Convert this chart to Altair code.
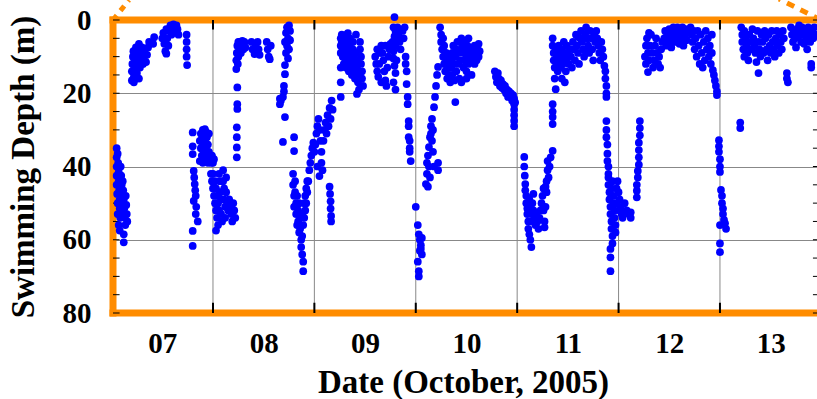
import altair as alt
import pandas as pd

# ---- data: (day of October 2005, swimming depth in m) ----
oct07_dawn = [(7.05,35),(7.05,37.5),(7.05,40),(7.05,42.5),(7.05,45),(7.055,47.5),(7.06,50),(7.06,36.5),(7.065,39),(7.07,41.5),(7.07,44),(7.075,46.5),(7.08,49),(7.08,51.5),(7.085,54),(7.09,40),(7.095,42.5),(7.1,45),(7.1,47.5),(7.105,50),(7.11,52.5),(7.11,44),(7.115,46.5),(7.12,49),(7.125,51.5),(7.13,54),(7.135,56),(7.12,58.5),(7.12,60.7),(7.14,48),(7.145,50.5),(7.15,53),(7.155,55),(7.07,56),(7.08,57.5),(7.06,53)]
oct07_day = [(7.2,16.5),(7.2,14),(7.205,12),(7.21,10),(7.215,8.5),(7.22,15.5),(7.225,13),(7.23,11),(7.235,9),(7.24,7.5),(7.25,14.5),(7.255,12),(7.26,10),(7.265,8),(7.27,6.5),(7.28,13),(7.285,11),(7.29,9),(7.3,7.5),(7.31,12),(7.32,10),(7.33,8),(7.34,11.5),(7.35,9.5),(7.36,7.5),(7.37,6),(7.22,17),(7.27,16),(7.42,4.7),(7.41,6.5),(7.5,5),(7.51,3.5),(7.52,6.5),(7.53,8.5),(7.54,2.5),(7.55,5),(7.56,7),(7.57,3),(7.58,1.5),(7.59,4),(7.6,2.5),(7.61,1.2),(7.62,3),(7.63,2),(7.64,1.5),(7.65,2.5),(7.54,9.2),(7.66,4),(7.74,4),(7.74,6),(7.74,8),(7.74,10),(7.745,12.3)]
oct07_night = [(7.8,30.7),(7.8,34.5),(7.8,36.6),(7.81,41.2),(7.815,43),(7.82,44.8),(7.825,46.5),(7.83,48),(7.81,49.4),(7.85,55),(7.8,57.6),(7.8,61.7),(7.835,51),(7.83,53),(7.87,33),(7.88,31),(7.89,32.5),(7.9,30),(7.91,31.5),(7.92,29.8),(7.93,30.5),(7.94,32),(7.95,34),(7.96,36),(7.97,38),(7.88,35),(7.89,37),(7.9,34),(7.91,36),(7.92,38),(7.93,35),(7.94,37),(7.95,39),(7.98,39),(7.99,37),(8.0,39),(8.01,38),(7.87,38.5),(7.96,31),(7.92,33),(7.9,39)]
oct08_dawn = [(7.98,42),(7.99,44),(8.0,46),(8.0,42),(8.01,48),(8.02,44),(8.02,50),(8.03,46),(8.03,52),(8.04,48),(8.04,54),(8.05,50),(8.05,56),(8.06,52),(8.06,42),(8.07,44),(8.07,47),(8.08,49),(8.08,53),(8.09,55),(8.1,41),(8.1,44),(8.11,46),(8.11,49),(8.12,51),(8.12,54),(8.13,43),(8.13,47),(8.14,50),(8.15,52),(8.16,49),(8.17,51),(8.18,53),(8.19,55),(8.2,50),(8.21,52),(8.22,54),(8.03,57.5)]
oct08_day = [(8.24,18.4),(8.24,23),(8.24,24.3),(8.235,29.3),(8.235,32),(8.235,34.8),(8.235,37.5),(8.23,13.4),(8.23,11),(8.235,9),(8.24,7),(8.245,12),(8.25,10),(8.26,8),(8.265,6),(8.275,9),(8.285,7),(8.29,5.7),(8.3,8),(8.31,6),(8.32,7.5),(8.25,6),(8.38,6),(8.39,8),(8.41,9.3),(8.42,7),(8.44,6),(8.45,8),(8.46,9.5),(8.53,6),(8.54,8),(8.55,10),(8.56,10.7),(8.57,7),(8.73,2),(8.72,3.5),(8.74,5),(8.71,6),(8.73,7),(8.75,8),(8.72,9),(8.74,10.5),(8.71,12.3),(8.71,14.8),(8.7,18),(8.7,19.5),(8.69,21),(8.67,22),(8.66,23),(8.66,21.5),(8.71,26.5),(8.69,33.3),(8.76,3),(8.76,5.5),(8.75,1.5),(8.8,32),(8.8,35.8)]
oct08_night = [(8.79,42),(8.79,45),(8.8,48),(8.8,51),(8.81,44),(8.81,47),(8.82,50),(8.82,53),(8.83,56),(8.83,48),(8.84,52),(8.84,55),(8.85,58),(8.85,50),(8.86,54),(8.86,57),(8.87,60),(8.87,62),(8.88,59),(8.88,64),(8.89,66),(8.89,68.6),(8.88,53),(8.89,56),(8.9,50),(8.9,54),(8.91,48),(8.91,52),(8.92,46),(8.92,50),(8.93,44),(8.93,47),(8.94,44),(8.95,41),(8.96,39),(8.97,37),(8.98,35),(8.99,33.5),(9.0,36),(9.01,34),(9.02,31),(9.03,29),(9.04,27),(9.05,30),(9.06,33),(9.07,36),(9.07,39),(9.08,41),(9.09,33),(9.1,30),(9.11,28),(9.12,31),(9.13,26),(9.14,29),(9.15,24),(9.16,27),(9.17,22),(9.18,24.5),(9.03,40),(9.05,42.6)]
oct09_dawn = [(9.15,45.5),(9.155,47.5),(9.16,49.5),(9.16,51.5),(9.165,53.5),(9.165,55),(9.26,5),(9.26,7),(9.26,9),(9.26,13),(9.26,17),(9.26,21)]
oct09_day = [(9.27,4),(9.27,6),(9.28,8),(9.28,10),(9.29,12),(9.29,5),(9.3,7),(9.3,9),(9.31,11),(9.31,13),(9.32,4),(9.32,6),(9.33,3.6),(9.33,8),(9.33,10),(9.34,12),(9.34,14),(9.35,5),(9.35,7),(9.36,9),(9.36,11),(9.37,13),(9.37,15),(9.38,6),(9.38,8),(9.39,10),(9.39,12),(9.4,14),(9.4,16),(9.41,4),(9.41,9),(9.42,11),(9.42,13),(9.43,15),(9.43,17),(9.42,20.2),(9.45,6),(9.45,8),(9.46,10),(9.46,12),(9.47,14),(9.47,16),(9.48,18),(9.44,19),(9.6,10),(9.61,12),(9.62,14),(9.63,15.5),(9.64,12),(9.65,9),(9.66,7),(9.67,9),(9.68,11),(9.69,14),(9.7,16.5),(9.71,18),(9.72,13),(9.73,10),(9.74,8),(9.75,6.5),(9.7,7),(9.66,17),(9.62,8),(9.79,-0.8),(9.78,2),(9.8,3),(9.79,4.5),(9.81,5.5),(9.8,7),(9.82,2),(9.83,4),(9.84,6),(9.85,8),(9.77,6),(9.78,8.5),(9.87,3),(9.88,5),(9.89,2),(9.78,10.5),(9.79,12.5),(9.8,14.5),(9.78,17),(9.8,19),(9.81,11)]
oct09_night = [(9.9,10),(9.9,12),(9.91,14),(9.91,17.5),(9.92,21),(9.92,23),(9.93,27.6),(9.93,29),(9.93,32),(9.94,33),(9.94,35),(9.94,36),(9.95,38.5),(10.0,51),(10.02,56),(10.03,58.5),(10.04,60),(10.05,61.5),(10.04,63),(10.06,64),(10.05,62.5),(10.03,68.6),(10.03,70),(10.06,59.5),(10.02,66),(10.1,44.8),(10.11,42),(10.11,39),(10.12,37),(10.13,34.7),(10.14,32),(10.15,29),(10.15,31),(10.16,27),(10.17,30),(10.18,23.8),(10.19,21),(10.2,18),(10.21,15),(10.22,12.8),(10.18,40),(10.13,40),(10.14,43),(10.12,45.5),(10.17,36),(10.16,33),(10.22,39),(10.22,41)]
oct10_day = [(10.24,2),(10.25,4),(10.25,6),(10.26,8),(10.27,10),(10.27,5),(10.28,7),(10.28,12),(10.29,14),(10.3,9),(10.3,11),(10.31,13),(10.31,16),(10.32,10),(10.33,12),(10.33,15),(10.34,17),(10.35,11),(10.35,13),(10.36,15),(10.36,9),(10.37,7),(10.38,12),(10.38,16.5),(10.39,10),(10.4,8),(10.4,14),(10.41,6),(10.42,12),(10.42,9),(10.43,16),(10.44,11),(10.45,8),(10.45,5),(10.46,7),(10.47,9),(10.47,13),(10.48,6),(10.48,11),(10.49,8),(10.5,10),(10.5,14),(10.51,7),(10.52,5),(10.52,12),(10.53,9),(10.54,8),(10.55,11),(10.56,8),(10.57,10),(10.58,7),(10.58,12),(10.59,9),(10.6,11),(10.61,8),(10.62,10),(10.62,6.5),(10.63,8.5),(10.39,22.4),(10.45,17),(10.5,16),(10.55,15),(10.78,14),(10.79,15.5),(10.8,17),(10.81,14.5),(10.82,16),(10.83,18),(10.84,16.5),(10.85,18.5),(10.86,17.5),(10.87,19),(10.88,18),(10.89,20),(10.9,19),(10.91,21),(10.92,19.5),(10.93,21),(10.94,20),(10.95,22),(10.96,20.5),(10.97,21.5),(10.98,22.5),(10.97,23),(10.97,24.5),(10.97,26),(10.97,27.5),(10.97,29)]
oct11_dawn = [(11.07,37.4),(11.07,40),(11.075,42.5),(11.08,44.8),(11.08,46.5),(11.09,48),(11.09,50),(11.1,51.5),(11.1,53),(11.11,55),(11.11,57),(11.12,58.5),(11.13,60),(11.14,62),(11.12,49),(11.13,51),(11.14,53),(11.15,55),(11.15,50),(11.16,52),(11.17,54),(11.18,56),(11.19,53),(11.2,55),(11.21,57),(11.22,54),(11.23,52),(11.24,50),(11.25,48),(11.26,52),(11.27,55),(11.27,56.6),(11.28,51),(11.29,47),(11.29,44),(11.3,41),(11.3,38.5),(11.31,43),(11.32,40),(11.33,37.5),(11.35,35.7),(11.26,46),(11.28,45.5),(11.16,47.5)]
oct11_day = [(11.35,23),(11.35,25),(11.35,26.5),(11.35,28.4),(11.35,5),(11.35,7),(11.36,9),(11.36,11),(11.37,13),(11.37,16),(11.38,18.9),(11.38,8),(11.39,10),(11.4,12),(11.4,14),(11.41,7),(11.42,9),(11.42,11),(11.43,13),(11.44,8),(11.45,10),(11.45,12),(11.46,6),(11.47,9),(11.48,11),(11.48,14),(11.49,7),(11.5,10),(11.51,12),(11.52,8),(11.53,10),(11.54,13),(11.55,6),(11.56,8),(11.57,11),(11.58,4),(11.59,7),(11.6,9),(11.61,12),(11.62,5),(11.63,3),(11.64,6),(11.65,8),(11.66,10),(11.67,4),(11.68,2),(11.69,5),(11.7,7),(11.71,9),(11.72,3),(11.73,5),(11.74,8),(11.75,11),(11.76,4),(11.77,6),(11.78,3),(11.79,5),(11.8,7),(11.81,9),(11.82,11),(11.83,6),(11.84,8),(11.85,10),(11.86,12.5),(11.87,14),(11.87,16),(11.88,18),(11.88,20),(11.88,21),(11.68,8.5),(11.6,4.5),(11.44,16),(11.47,17)]
oct12_dawn = [(11.88,27.6),(11.88,30),(11.88,32),(11.89,34),(11.89,36.5),(11.89,38.5),(11.9,40),(11.9,42),(11.9,43),(11.9,45),(11.91,47),(11.91,49),(11.92,51),(11.92,53),(11.93,55),(11.93,57),(11.94,59),(11.94,61),(11.92,62.5),(11.95,48),(11.95,50),(11.96,52),(11.96,54),(11.97,56),(11.97,58),(11.98,50),(11.98,46),(11.99,44),(12.0,47),(12.01,49),(12.01,52),(12.02,51),(12.03,53),(12.04,54),(11.92,64.8),(11.92,68.6),(11.93,46),(11.94,44),(12.06,50),(12.08,52),(12.1,53),(12.12,54),(12.12,52.5),(12.21,27.6),(12.21,29.5),(12.21,31.5),(12.2,33.5),(12.2,35.5),(12.2,37.5),(12.2,39.5),(12.19,41.2),(12.19,43),(12.18,45),(12.18,46.6),(12.18,48.4)]
oct12_day = [(12.26,10),(12.27,7),(12.27,12),(12.28,5),(12.29,9),(12.29,14.2),(12.3,11),(12.31,7),(12.32,4),(12.33,9),(12.34,13),(12.35,11),(12.36,7),(12.37,5),(12.38,9),(12.39,12),(12.4,10),(12.41,13),(12.42,8),(12.43,6),(12.3,3.5),(12.45,5),(12.46,3),(12.47,7),(12.48,4),(12.49,6),(12.5,2.5),(12.51,5),(12.52,7.5),(12.53,4),(12.54,2),(12.55,6),(12.56,3.5),(12.57,5.5),(12.58,2),(12.59,4),(12.6,6.5),(12.61,3),(12.62,5),(12.63,2),(12.64,7),(12.65,4),(12.66,2.5),(12.67,5.5),(12.68,3.5),(12.71,2),(12.72,4),(12.73,6),(12.74,3),(12.75,8),(12.76,5),(12.77,10),(12.78,3),(12.79,7),(12.8,12),(12.81,4),(12.82,9),(12.83,13),(12.84,6),(12.85,11),(12.86,3),(12.87,8),(12.88,5),(12.89,10),(12.9,7),(12.91,12),(12.92,4),(12.92,9),(12.93,13.7),(12.94,15),(12.95,16.5),(12.96,18),(12.97,19.5),(12.97,20.5)]
oct13_dawn = [(12.99,32.8),(12.99,34.5),(12.99,36),(13.0,38),(13.0,40),(13.0,41.5),(13.01,46.4),(13.02,48),(13.02,50),(13.03,51.5),(13.03,53),(13.04,54.6),(13.05,55.5),(13.06,57),(13.0,56),(13.0,61),(13.0,63.4),(13.2,28),(13.2,29.5)]
oct13_day = [(13.21,2),(13.22,4),(13.22,6),(13.23,8),(13.24,10),(13.24,3),(13.25,5),(13.26,7),(13.27,9),(13.28,11),(13.29,4),(13.3,6),(13.31,8),(13.32,2.5),(13.33,5),(13.34,7),(13.35,9),(13.36,11.5),(13.37,3),(13.38,14.5),(13.38,6),(13.39,8),(13.4,10),(13.41,4),(13.42,6),(13.43,9),(13.44,3),(13.45,5),(13.46,8),(13.47,11),(13.48,4),(13.49,7),(13.5,9),(13.51,3),(13.52,6),(13.53,8),(13.54,10),(13.55,5),(13.56,3),(13.57,7),(13.58,9),(13.59,4),(13.6,6),(13.61,8),(13.62,3),(13.63,5),(13.66,14.5),(13.66,16),(13.67,17),(13.7,2),(13.71,4),(13.72,6),(13.73,3),(13.74,5),(13.75,7.5),(13.76,2.5),(13.77,4.5),(13.78,1.5),(13.79,3.5),(13.8,6),(13.81,2),(13.82,4),(13.83,6.5),(13.84,3),(13.85,5),(13.86,8),(13.87,2),(13.88,4),(13.89,6),(13.9,12),(13.9,13),(13.91,3),(13.92,5),(13.93,2),(13.94,4)]

segments = [oct07_dawn, oct07_day, oct07_night, oct08_dawn, oct08_day, oct08_night,
            oct09_dawn, oct09_day, oct09_night, oct10_day, oct11_dawn, oct11_day,
            oct12_dawn, oct12_day, oct13_dawn, oct13_day]

day_bounds = [8, 9, 10, 11, 12, 13]            # midnight grid lines
label_days = [7.5, 8.5, 9.5, 10.5, 11.5, 12.5, 13.5]  # day labels at noon
depth_ticks = [0, 20, 40, 60, 80]
minor_depths = [0, 5, 10, 15, 20, 25, 30, 35, 40, 45, 50, 55, 60, 65, 70, 75, 80]

df = pd.DataFrame([{"day": t, "depth": d} for seg in segments for (t, d) in seg])

X_MIN, X_MAX = 7.014, 13.957
W, H = 704, 293
ORANGE = "#FF8C00"
GRID = "#888888"
FONT = "Liberation Serif"

xs = alt.Scale(domain=[X_MIN, X_MAX], nice=False, zero=False)
ys = alt.Scale(domain=[0, 80], reverse=True, nice=False, zero=False)

x_axis = alt.Axis(
    values=label_days,
    labelExpr="(datum.value < 10 ? '0' : '') + floor(datum.value)",
    grid=False, ticks=False, domain=False,
    labelFont=FONT, labelFontWeight="bold", labelFontSize=29, labelColor="black",
    labelBaseline="alphabetic", labelPadding=39, labelFlush=False, labelOverlap=False,
    title="Date (October, 2005)", titleFont=FONT, titleFontWeight="bold",
    titleFontSize=33, titleColor="black", titleBaseline="alphabetic",
    titleX=W / 2 - 2, titleY=79,
)
y_axis = alt.Axis(
    values=depth_ticks, grid=True, gridColor=GRID, gridWidth=1,
    ticks=False, domain=False,
    labelFont=FONT, labelFontWeight="bold", labelFontSize=29, labelColor="black",
    labelBaseline="middle", labelPadding=22, labelFlush=False, labelOverlap=False,
    title="Swimming Depth (m)", titleFont=FONT, titleFontWeight="bold",
    titleFontSize=33, titleColor="black", titleAngle=270, titleAlign="center",
    titleBaseline="alphabetic", titleX=-80, titleY=H / 2,
)

one = pd.DataFrame({"k": [0]})
bdf = pd.DataFrame({"day": day_bounds})
mdf = pd.DataFrame({"depth": minor_depths})

vgrid = alt.Chart(bdf).mark_rule(color=GRID, strokeWidth=1).encode(
    x=alt.X("day:Q", scale=xs, axis=x_axis))

callout_left = alt.Chart(one).mark_rule(
    color=ORANGE, strokeWidth=5, strokeDash=[6, 6]).encode(
    x=alt.value(0), x2=alt.value(16), y=alt.value(0), y2=alt.value(-20))
callout_right = alt.Chart(one).mark_rule(
    color=ORANGE, strokeWidth=5, strokeDash=[8, 7]).encode(
    x=alt.value(708), x2=alt.value(666), y=alt.value(0), y2=alt.value(-21))

frame_top = alt.Chart(one).mark_rule(color=ORANGE, strokeWidth=7, strokeCap="square").encode(
    x=alt.value(0), x2=alt.value(W + 10), y=alt.value(0))
frame_left = alt.Chart(one).mark_rule(color=ORANGE, strokeWidth=7, strokeCap="square").encode(
    x=alt.value(0), y=alt.value(0), y2=alt.value(H))
frame_bottom = alt.Chart(one).mark_rule(color=ORANGE, strokeWidth=7, strokeCap="square").encode(
    x=alt.value(0), x2=alt.value(W + 10), y=alt.value(H))

ticks_bottom = alt.Chart(bdf).mark_rule(color="black", strokeWidth=2).encode(
    x=alt.X("day:Q", scale=xs, axis=x_axis),
    y=alt.Y(datum=80, scale=ys, axis=y_axis), y2=alt.Y2(datum=77.2))
ticks_top = alt.Chart(bdf).mark_rule(color="black", strokeWidth=2).encode(
    x=alt.X("day:Q", scale=xs, axis=x_axis),
    y=alt.Y(datum=0, scale=ys, axis=y_axis), y2=alt.Y2(datum=2.6))

ticks_left = alt.Chart(mdf).mark_rule(color="black", strokeWidth=1).encode(
    y=alt.Y("depth:Q", scale=ys, axis=y_axis),
    x=alt.X(datum=X_MIN, scale=xs, axis=x_axis), x2=alt.X2(datum=X_MIN + 0.065))
ticks_right = alt.Chart(mdf).mark_rule(color="black", strokeWidth=1).encode(
    y=alt.Y("depth:Q", scale=ys, axis=y_axis),
    x=alt.X(datum=X_MAX - 0.04, scale=xs, axis=x_axis), x2=alt.X2(datum=X_MAX))

points = alt.Chart(df).mark_circle(size=60, color="#0000FF", opacity=1).encode(
    x=alt.X("day:Q", scale=xs, axis=x_axis),
    y=alt.Y("depth:Q", scale=ys, axis=y_axis),
)

chart = alt.layer(
    vgrid, callout_left, callout_right, frame_top, frame_left, frame_bottom,
    ticks_bottom, ticks_top, ticks_left, ticks_right, points,
).properties(
    width=W, height=H,
    autosize=alt.AutoSizeParams(type="none"),
    padding={"left": 113, "top": 20, "right": 0, "bottom": 86},
    background="white",
).configure_view(stroke=None)

chart.save("out.html", embed_options={"renderer": "svg", "actions": False})
